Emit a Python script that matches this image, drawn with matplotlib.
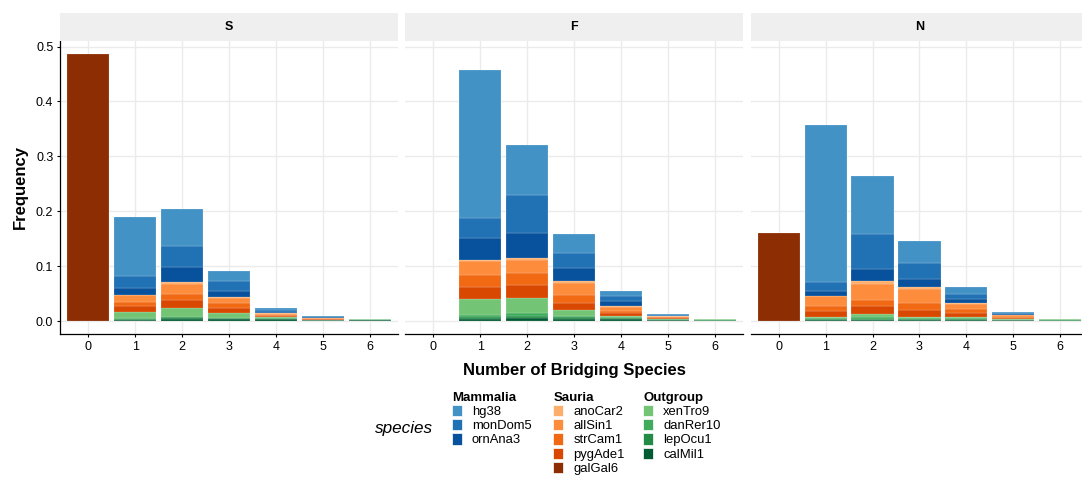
import numpy as np
import matplotlib
matplotlib.use("Agg")
import matplotlib.pyplot as plt
from matplotlib.patches import Patch

plt.rcParams["font.family"] = ["Liberation Sans", "DejaVu Sans"]

# bins on the x axis
bins = [0, 1, 2, 3, 4, 5, 6]
panels = ["S", "F", "N"]

# species in legend order (first one is stacked on top)
species = ["hg38", "monDom5", "ornAna3",
           "anoCar2", "allSin1", "strCam1", "pygAde1", "galGal6",
           "xenTro9", "danRer10", "lepOcu1", "calMil1"]

colors = {
    "hg38": "#4292c6", "monDom5": "#2171b5", "ornAna3": "#08519c",
    "anoCar2": "#fdae6b", "allSin1": "#fd8d3c", "strCam1": "#f16913",
    "pygAde1": "#d94801", "galGal6": "#8c2d04",
    "xenTro9": "#74c476", "danRer10": "#41ab5d", "lepOcu1": "#238b45",
    "calMil1": "#005a32",
}

groups = {
    "Mammalia": ["hg38", "monDom5", "ornAna3"],
    "Sauria": ["anoCar2", "allSin1", "strCam1", "pygAde1", "galGal6"],
    "Outgroup": ["xenTro9", "danRer10", "lepOcu1", "calMil1"],
}

freq_S = {
    "hg38":     [0, 0.107, 0.067, 0.0187, 0.003, 0.001, 0.0001],
    "monDom5":  [0, 0.022, 0.039, 0.0183, 0.0035, 0.0015, 0.0001],
    "ornAna3":  [0, 0.0125, 0.0265, 0.011, 0.0025, 0.001, 0.0001],
    "anoCar2":  [0, 0.001, 0.0048, 0.0016, 0.0005, 0.0003, 0],
    "allSin1":  [0, 0.012, 0.0167, 0.009, 0.002, 0.001, 0.0001],
    "strCam1":  [0, 0.0065, 0.012, 0.0097, 0.0015, 0.0008, 0],
    "pygAde1":  [0, 0.012, 0.014, 0.009, 0.002, 0.0008, 0.0001],
    "galGal6":  [0.487, 0, 0, 0, 0, 0, 0],
    "xenTro9":  [0, 0.011, 0.0162, 0.0085, 0.003, 0.0006, 0.0003],
    "danRer10": [0, 0.002, 0.001, 0.001, 0.001, 0.0003, 0.0005],
    "lepOcu1":  [0, 0.001, 0.0027, 0.0015, 0.001, 0.0005, 0.001],
    "calMil1":  [0, 0.002, 0.004, 0.0035, 0.003, 0.0012, 0.0015],
}

freq_F = {
    "hg38":     [0, 0.2685, 0.091, 0.0344, 0.009, 0.0015, 0.0002],
    "monDom5":  [0, 0.0375, 0.0684, 0.0272, 0.009, 0.0015, 0.0001],
    "ornAna3":  [0, 0.040, 0.0461, 0.0244, 0.009, 0.001, 0.0001],
    "anoCar2":  [0, 0.002, 0.0035, 0.002, 0.001, 0.0005, 0],
    "allSin1":  [0, 0.026, 0.023, 0.023, 0.0083, 0.0015, 0],
    "strCam1":  [0, 0.021, 0.0225, 0.0143, 0.004, 0.0015, 0],
    "pygAde1":  [0, 0.022, 0.0243, 0.0127, 0.0043, 0.0012, 0],
    "galGal6":  [0, 0, 0, 0, 0, 0, 0],
    "xenTro9":  [0, 0.0296, 0.0272, 0.011, 0.0025, 0.0008, 0.0008],
    "danRer10": [0, 0.0026, 0.005, 0.0025, 0.0018, 0.0005, 0.0006],
    "lepOcu1":  [0, 0.0036, 0.0041, 0.003, 0.0022, 0.001, 0.001],
    "calMil1":  [0, 0.0042, 0.0049, 0.0035, 0.003, 0.0017, 0.0008],
}

freq_N = {
    "hg38":     [0, 0.2861, 0.1046, 0.0405, 0.0127, 0.0015, 0.0001],
    "monDom5":  [0, 0.0157, 0.0649, 0.0291, 0.0097, 0.002, 0.0001],
    "ornAna3":  [0, 0.0092, 0.0218, 0.0146, 0.0073, 0.0015, 0],
    "anoCar2":  [0, 0.0012, 0.0054, 0.0038, 0.0015, 0.0005, 0],
    "allSin1":  [0, 0.0169, 0.0293, 0.0253, 0.01, 0.003, 0],
    "strCam1":  [0, 0.0097, 0.0107, 0.0127, 0.0067, 0.002, 0],
    "pygAde1":  [0, 0.0103, 0.014, 0.0127, 0.0078, 0.003, 0],
    "galGal6":  [0.160, 0, 0, 0, 0, 0, 0],
    "xenTro9":  [0, 0.003, 0.0066, 0.0018, 0.0012, 0.0005, 0.0005],
    "danRer10": [0, 0.0018, 0.0022, 0.0013, 0.0012, 0.0005, 0.0006],
    "lepOcu1":  [0, 0.0012, 0.0018, 0.0018, 0.0018, 0.0009, 0.0009],
    "calMil1":  [0, 0.0018, 0.0025, 0.0024, 0.0025, 0.001, 0.0008],
}

panel_data = {"S": freq_S, "F": freq_F, "N": freq_N}

W, H = 1082, 480
fig = plt.figure(figsize=(W / 100, H / 100), dpi=100)

panel_left = [60.2, 405.2, 750.6]
panel_w = 337.7
panel_top, panel_bot = 40.5, 334.4
strip_top = 13.0

x = np.array(bins)
axes = []
for i, name in enumerate(panels):
    ax = fig.add_axes([panel_left[i] / W, 1 - panel_bot / H,
                       panel_w / W, (panel_bot - panel_top) / H])
    axes.append(ax)
    data = panel_data[name]
    cum = np.zeros(len(bins))
    # stack from the bottom: last species in the list sits lowest
    for sp in species[::-1]:
        v = np.array(data[sp], dtype=float)
        m = v > 0
        ax.bar(x[m], v[m], bottom=cum[m], width=0.9, color=colors[sp],
               edgecolor=(1, 1, 1, 0.35), linewidth=0.35, zorder=3)
        cum += v

    ax.set_xlim(-0.6, 6.6)
    ax.set_ylim(-0.0244, 0.511)
    ax.set_xticks(bins)
    ax.set_yticks([0, 0.1, 0.2, 0.3, 0.4, 0.5])
    ax.grid(True, color="#ebebeb", linewidth=1.0, zorder=0)
    ax.set_axisbelow(True)
    for s in ["top", "right"]:
        ax.spines[s].set_visible(False)
    ax.spines["bottom"].set_linewidth(0.9)
    ax.spines["left"].set_linewidth(0.9)
    ax.tick_params(axis="both", length=2.5, width=0.8, labelsize=9,
                   colors="black", pad=2.5)
    if i == 0:
        ax.set_yticklabels([f"{t:.1f}" for t in ax.get_yticks()])
    else:
        ax.spines["left"].set_visible(False)
        ax.tick_params(axis="y", left=False, labelleft=False)

    # facet strip
    sax = fig.add_axes([panel_left[i] / W, 1 - panel_top / H,
                        panel_w / W, (panel_top - strip_top) / H])
    sax.set_facecolor("#efefef")
    sax.set_xticks([])
    sax.set_yticks([])
    for s in sax.spines.values():
        s.set_visible(False)
    sax.text(0.5, 0.5, name, ha="center", va="center", fontsize=9,
             fontweight="bold", transform=sax.transAxes)

axes[0].set_ylabel("Frequency", fontsize=12, fontweight="bold", labelpad=6)
fig.text(574 / W, 1 - 370 / H, "Number of Bridging Species", ha="center",
         va="center", fontsize=12, fontweight="bold")

# legend: one block per clade
fig.text(404 / W, 1 - 429 / H, "species", ha="center", va="center",
         fontsize=12.3, style="italic")
leg_x = {"Mammalia": 451.7, "Sauria": 553.3, "Outgroup": 643.3}
for grp, members in groups.items():
    handles = [Patch(facecolor=colors[sp], edgecolor="white", linewidth=0.5)
               for sp in members]
    leg = fig.legend(handles, members, title=grp, loc="upper left",
                     bbox_to_anchor=(leg_x[grp] / W, 1 - 392 / H),
                     frameon=False, fontsize=9.4, handlelength=0.78,
                     handleheight=0.95, labelspacing=0.08, handletextpad=0.75,
                     borderpad=0, borderaxespad=0,
                     title_fontproperties={"weight": "bold", "size": 9.5})
    leg._legend_box.align = "left"

fig.savefig("out.png", dpi=100)
